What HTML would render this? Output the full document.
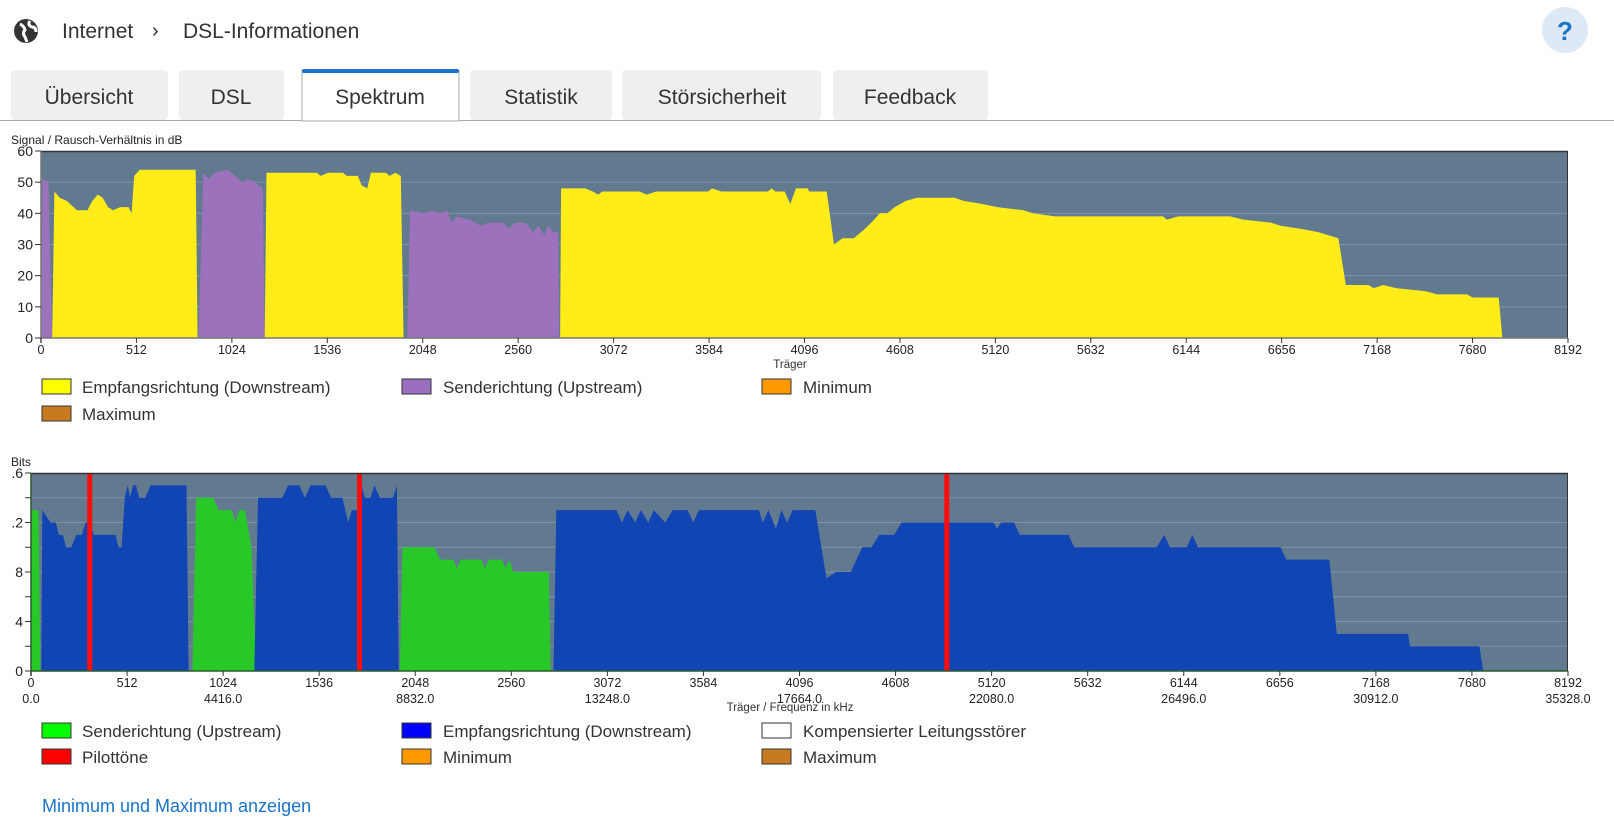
<!DOCTYPE html>
<html><head><meta charset="utf-8">
<style>
html,body{margin:0;padding:0;width:1614px;height:821px;overflow:hidden;background:#fff;font-family:"Liberation Sans",sans-serif;}
svg{position:absolute;left:0;top:0}
</style></head>
<body>
<svg id="s" width="1614" height="821" xmlns="http://www.w3.org/2000/svg">
  <g>
    <circle cx="26" cy="31" r="12" fill="#333"/>
    <path d="M20 24 q4 2 5 6 q-3 3 0 7 l2 5 M30 21 q-3 4 2 6 q4 0 4 5" stroke="#fff" stroke-width="3" fill="none"/>
    <text x="62" y="38" font-size="21" fill="#333">Internet</text>
    <text x="152" y="37" font-size="20" fill="#333">›</text>
    <text x="183" y="38" font-size="21" fill="#333">DSL-Informationen</text>
    <circle cx="1565" cy="30" r="23" fill="#ddeaf6"/>
    <text x="1565" y="40" font-size="26" font-weight="bold" fill="#1a73c8" text-anchor="middle">?</text>
  </g>
  <g>
    <line x1="0" y1="120.5" x2="1614" y2="120.5" stroke="#aaa" stroke-width="1"/>
    <rect x="11" y="70" width="157" height="50" rx="4" fill="#efefef"/>
    <text x="89" y="104" font-size="21" fill="#333" text-anchor="middle">Übersicht</text>
    <rect x="179" y="70" width="105" height="50" rx="4" fill="#efefef"/>
    <text x="231" y="104" font-size="21" fill="#333" text-anchor="middle">DSL</text>
    <rect x="302" y="70" width="157" height="51" fill="#fff" stroke="#aaa"/>
    <rect x="302" y="69" width="157" height="4" rx="2" fill="#1a73c8"/>
    <text x="380" y="104" font-size="21" fill="#333" text-anchor="middle">Spektrum</text>
    <rect x="470" y="70" width="142" height="50" rx="4" fill="#efefef"/>
    <text x="541" y="104" font-size="21" fill="#333" text-anchor="middle">Statistik</text>
    <rect x="622" y="70" width="199" height="50" rx="4" fill="#efefef"/>
    <text x="722" y="104" font-size="21" fill="#333" text-anchor="middle">Störsicherheit</text>
    <rect x="833" y="70" width="155" height="50" rx="4" fill="#efefef"/>
    <text x="910" y="104" font-size="21" fill="#333" text-anchor="middle">Feedback</text>
  </g>
  <g id="c1"></g>
  <g id="c2"></g>
  <g>
    <rect x="42" y="379" width="29" height="15" fill="#ffff00" stroke="#333"/>
    <text x="82" y="393" font-size="17" fill="#333">Empfangsrichtung (Downstream)</text>
    <rect x="402" y="379" width="29" height="15" fill="#9b6fc0" stroke="#333"/>
    <text x="443" y="393" font-size="17" fill="#333">Senderichtung (Upstream)</text>
    <rect x="762" y="379" width="29" height="15" fill="#ff9900" stroke="#333"/>
    <text x="803" y="393" font-size="17" fill="#333">Minimum</text>
    <rect x="42" y="406" width="29" height="15" fill="#c87a20" stroke="#333"/>
    <text x="82" y="420" font-size="17" fill="#333">Maximum</text>
  </g>
  <g>
    <rect x="42" y="723" width="29" height="15" fill="#00ff00" stroke="#333"/>
    <text x="82" y="737" font-size="17" fill="#333">Senderichtung (Upstream)</text>
    <rect x="402" y="723" width="29" height="15" fill="#0000ff" stroke="#333"/>
    <text x="443" y="737" font-size="17" fill="#333">Empfangsrichtung (Downstream)</text>
    <rect x="762" y="723" width="29" height="15" fill="#ffffff" stroke="#333"/>
    <text x="803" y="737" font-size="17" fill="#333">Kompensierter Leitungsstörer</text>
    <rect x="42" y="749" width="29" height="15" fill="#ff0000" stroke="#333"/>
    <text x="82" y="763" font-size="17" fill="#333">Pilottöne</text>
    <rect x="402" y="749" width="29" height="15" fill="#ff9900" stroke="#333"/>
    <text x="443" y="763" font-size="17" fill="#333">Minimum</text>
    <rect x="762" y="749" width="29" height="15" fill="#c87a20" stroke="#333"/>
    <text x="803" y="763" font-size="17" fill="#333">Maximum</text>
  </g>
  <text x="42" y="812" font-size="18" fill="#1a73c8">Minimum und Maximum anzeigen</text>
</svg>
<script>
const xTicks=[0,512,1024,1536,2048,2560,3072,3584,4096,4608,5120,5632,6144,6656,7168,7680,8192];
const freqTicks=[0,1024,2048,3072,4096,5120,6144,7168,8192];
const freqLabels=["0.0","4416.0","8832.0","13248.0","17664.0","22080.0","26496.0","30912.0","35328.0"];
const snrTicks=[0,10,20,30,40,50,60];
const bitTicks=[0,4,8,12,16];
const bitTickLabels=["0","4","8",".2",".6"];
// SNR upstream segments
const snrUpC=[[0,8,40,60],[845,870,900,930,1000,1040,1080,1110,1150,1190,1200],[1965,1980,2050,2100,2140,2180,2200,2230,2300,2360,2400,2480,2510,2540,2600,2640,2670,2700,2720,2750,2775,2780]];
const snrUpV=[[0,51,50,0],[0,53,51,53,54,52,50,51,50,48,0],[0,41,40,41,40,41,37,39,38,36,37,37,35,37,37,34,36,33,36,34,34,0]];
// SNR downstream segments
const snrDnC=[[60,72,100,138,193,249,276,304,331,359,387,425,470,486,500,530,830,840],
 [1200,1210,1480,1500,1540,1620,1640,1700,1720,1750,1770,1850,1870,1900,1930,1945],
 [2785,2790,2920,2960,2990,3010,3210,3250,3300,3580,3600,3650,3900,3920,3940,3990,4020,4050,4115,4120,4215,4254,4300,4360,4420,4470,4500,4540,4580,4640,4700,4900,4950,5050,5130,5270,5320,5440,6020,6040,6100,6380,6450,6600,6650,6760,6850,6960,7000,7120,7150,7200,7270,7430,7490,7650,7680,7820,7840]];
const snrDnV=[[0,47,45,44,41,41,44,46,45,42,41,42,42,40,52,54,54,0],
 [0,53,53,52,53,53,52,52,49,48,53,53,52,53,52,0],
 [0,48,48,47,46,47,47,46,47,47,48,47,47,48,47,47,43,48,48,47,47,30,32,32,35,38,40,40,42,44,45,45,44,43,42,41,40,39,39,38,39,39,38,37,36,35,34,32,17,17,16,17,16,15,14,14,13,13,0]];
// Bits upstream
const bitUpC=[[0,5,40,50],[860,880,970,1000,1070,1090,1110,1140,1175,1200],[1965,1980,2150,2180,2250,2270,2290,2400,2420,2440,2510,2530,2550,2570,2760,2770]];
const bitUpV=[[0,13,13,0],[0,14,14,13,13,12,13,13,10,0],[0,10,10,9,9,8.3,9,9,8.3,9,9,8.3,9,8,8,0]];
// Bits downstream
const bitDnC=[[55,60,104,132,148,170,187,214,242,270,291,313,335,450,467,483,500,516,527,544,560,576,609,637,829,840],
 [1190,1210,1340,1370,1430,1460,1490,1570,1600,1660,1690,1710,1740,1760,1780,1810,1830,1860,1930,1950,1960],
 [2785,2800,3120,3150,3180,3220,3250,3290,3320,3380,3420,3500,3530,3560,3880,3900,3930,3970,4000,4030,4060,4180,4240,4290,4370,4400,4430,4480,4520,4600,4640,5130,5150,5170,5240,5270,5530,5560,6000,6040,6070,6160,6190,6220,6660,6690,6920,6960,7340,7350,7720,7740]];
const bitDnV=[[0,13,12,12,11,11,10,10,11,11,12,12,11,11,10,10,14,15,14,15,15,14,14,15,15,0],
 [0,14,14,15,15,14,15,15,14,14,12,13,13,15,14,14,15,14,14,15,0],
 [0,13,13,12,13,12,13,12,13,12,13,13,12,13,13,12,13,11.5,13,12,13,13,7.5,8,8,9,10,10,11,11,12,12,11.5,12,12,11,11,10,10,11,10,10,11,10,10,9,9,3,3,2,2,0]];
const pilotTones=[313,1751,4881];

const NS="http://www.w3.org/2000/svg";
function mk(parent,tag,attrs){const e=document.createElementNS(NS,tag);for(const k in attrs)e.setAttribute(k,attrs[k]);parent.appendChild(e);return e;}

function chart(g,cfg){
  const L=cfg.left,R=1568,T=cfg.top,B=cfg.bottom;
  const xs=c=>L+(c/8192)*(R-L);
  const ys=v=>B-(v/cfg.max)*(B-T);
  let t=mk(g,'text',{x:11,y:T-7,'font-size':12,fill:'#222'});t.textContent=cfg.title;
  
  
  let bg=mk(g,'rect',{x:L,y:T,width:R-L,height:B-T,fill:'#627a8f'});
  
  
  for(let v=cfg.grid;v<cfg.max;v+=cfg.grid){mk(g,'line',{x1:L,x2:R,y1:ys(v),y2:ys(v),stroke:'#7f93a5','stroke-width':1});}
  const series=(C,V,color,name)=>{for(let i=0;i<C.length;i++){let d='';for(let j=0;j<C[i].length;j++){d+=(j?'L':'M')+xs(C[i][j]).toFixed(1)+' '+ys(V[i][j]).toFixed(1);}
    d+='L'+xs(C[i][C[i].length-1]).toFixed(1)+' '+B+'L'+xs(C[i][0]).toFixed(1)+' '+B+'Z';
    const p=mk(g,'path',{d:d,fill:color});
    
    }};
  cfg.draw(series,xs,ys);
  mk(g,'line',{x1:L,x2:R,y1:T+0.5,y2:T+0.5,stroke:'#333','stroke-width':1.5});
  mk(g,'line',{x1:R-0.5,x2:R-0.5,y1:T,y2:B,stroke:'#333','stroke-width':1});
  mk(g,'line',{x1:L,x2:R,y1:B,y2:B,stroke:cfg.axisColor,'stroke-width':1.5});
  mk(g,'line',{x1:L,x2:L,y1:T,y2:B+5,stroke:cfg.axisColor,'stroke-width':1.5});
  for(let v=0;v<=cfg.max;v+=cfg.minor){mk(g,'line',{x1:L-6,x2:L,y1:ys(v),y2:ys(v),stroke:'#333'});}
  cfg.yTicks.forEach((v,i)=>{const tx=mk(g,'text',{x:L-8,y:ys(v)+5,'font-size':14,fill:'#222','text-anchor':'end'});tx.textContent=cfg.yLabels[i];
    
    });
  xTicks.forEach(c=>{mk(g,'line',{x1:xs(c),x2:xs(c),y1:B,y2:B+5,stroke:'#333'});
    const tx=mk(g,'text',{x:xs(c),y:B+16,'font-size':12.5,fill:'#222','text-anchor':'middle'});tx.textContent=c;
    
    });
  if(cfg.freq){freqTicks.forEach((c,i)=>{const tx=mk(g,'text',{x:xs(c),y:B+32,'font-size':12.5,fill:'#222','text-anchor':'middle'});tx.textContent=freqLabels[i];
    
    });}
  const xt=mk(g,'text',{x:790,y:cfg.xTitleY,'font-size':11.5,fill:'#333','text-anchor':'middle'});xt.textContent=cfg.xTitle;
  
  
}
chart(document.getElementById('c1'),{left:41,top:151,bottom:338,max:60,grid:10,minor:10,yTicks:snrTicks,yLabels:snrTicks.map(String),
  title:'Signal / Rausch-Verhältnis in dB',xTitle:'Träger',xTitleY:368,axisColor:'#777',
  draw:(series)=>{series(snrUpC,snrUpV,'#9b72bb','snr-upstream');series(snrDnC,snrDnV,'#ffec18','snr-downstream');}});
chart(document.getElementById('c2'),{left:31,top:473,bottom:671,max:16,grid:2,minor:2,yTicks:bitTicks,yLabels:bitTickLabels,freq:true,
  title:'Bits',xTitle:'Träger / Frequenz in kHz',xTitleY:711,axisColor:'#2a5a2a',
  draw:(series,xs,ys)=>{series(bitUpC,bitUpV,'#28c828','bits-upstream');series(bitDnC,bitDnV,'#1245b4','bits-downstream');
    const g2=document.getElementById('c2');
    pilotTones.forEach(c=>{const r=mk(g2,'rect',{x:xs(c)-2.5,y:473,width:5,height:198,fill:'#ff0d0d'});
      
      });}});
</script>
</body></html>
